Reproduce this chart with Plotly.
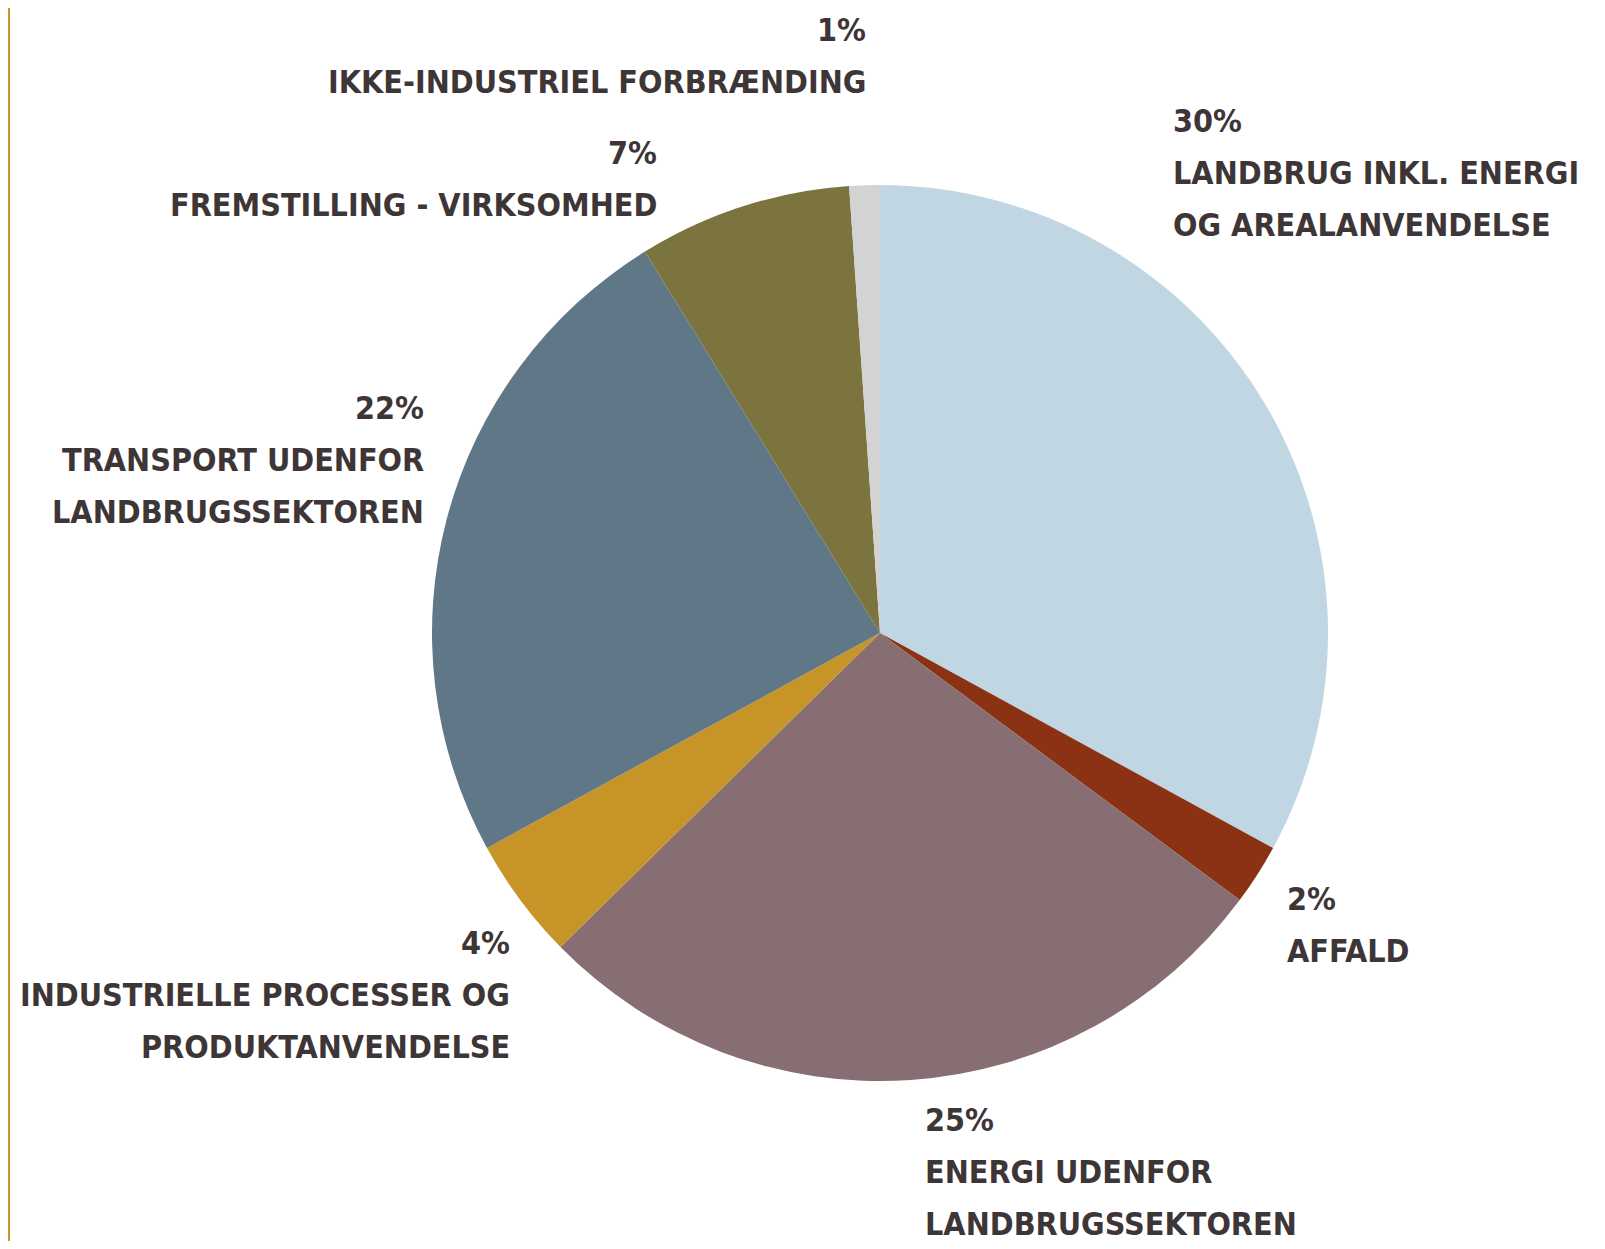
import plotly.graph_objects as go

# browser window size; the page body adds an 8px margin around the figure
PAGE_W, PAGE_H = 1605, 1249
MARGIN = 8
W, H = PAGE_W - 2 * MARGIN, PAGE_H - 2 * MARGIN

sectors = [
    "LANDBRUG INKL. ENERGI<br>OG AREALANVENDELSE",
    "AFFALD",
    "ENERGI UDENFOR<br>LANDBRUGSSEKTOREN",
    "INDUSTRIELLE PROCESSER OG<br>PRODUKTANVENDELSE",
    "TRANSPORT UDENFOR<br>LANDBRUGSSEKTOREN",
    "FREMSTILLING - VIRKSOMHED",
    "IKKE-INDUSTRIEL FORBRÆNDING",
]
shares = [30, 2, 25, 4, 22, 7, 1]
colors = ["#c0d6e3", "#8b3214", "#876e72", "#c79428", "#607787", "#7b743f", "#d3d3d3"]

# label block placement in page pixels: (x, centre of first line, anchor)
label_pos = [
    (1171, 121, "left"),
    (1285, 899, "left"),
    (923, 1120, "left"),
    (512, 943, "right"),
    (426, 408, "right"),
    (659, 153, "right"),
    (868, 30, "right"),
]
line_step = 52

text_color = "#3e3536"
font_family = "DejaVu Sans Condensed, Liberation Sans Narrow, sans-serif"
font_size = 32

cx, cy, r = 880, 633, 448


def fx(px):
    return (px - MARGIN) / W


def fy(py):
    return 1 - (py - MARGIN) / H


fig = go.Figure(
    go.Pie(
        labels=[s.replace("<br>", " ") for s in sectors],
        values=shares,
        marker=dict(colors=colors, line=dict(width=0)),
        sort=False,
        direction="clockwise",
        rotation=0,
        textinfo="none",
        hoverinfo="label+value",
        showlegend=False,
        domain=dict(x=[fx(cx - r), fx(cx + r)], y=[fy(cy + r), fy(cy - r)]),
    )
)

for sector, share, (px, py, anchor) in zip(sectors, shares, label_pos):
    lines = [f"{share}%"] + sector.split("<br>")
    for i, line in enumerate(lines):
        fig.add_annotation(
            xref="paper",
            yref="paper",
            x=fx(px),
            y=fy(py + i * line_step),
            xanchor=anchor,
            yanchor="middle",
            showarrow=False,
            text=f"<b>{line}</b>",
            font=dict(family=font_family, size=font_size, color=text_color),
        )

# thin gold rule down the left edge
fig.add_shape(
    type="rect",
    xref="paper",
    yref="paper",
    x0=0,
    x1=2 / W,
    y0=0,
    y1=1,
    fillcolor="#c8962a",
    line=dict(width=0),
)

fig.update_layout(
    width=W,
    height=H,
    margin=dict(l=0, r=0, t=0, b=0),
    paper_bgcolor="white",
    plot_bgcolor="white",
)

fig.write_html("out.html")
